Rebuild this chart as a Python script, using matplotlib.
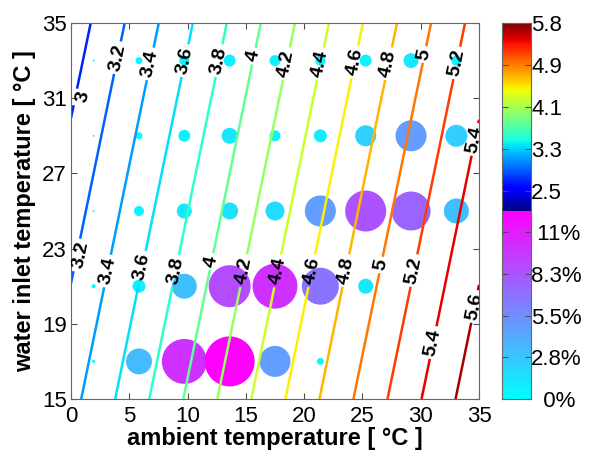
import numpy as np
import matplotlib
matplotlib.use('Agg')
import matplotlib.pyplot as plt
from matplotlib.colors import Normalize

plt.rcParams['font.family'] = ['Liberation Sans', 'DejaVu Sans']

# COP table
ambient = [0, 5, 10, 15, 20, 25, 30, 35]
inlet = [15, 19, 23, 27, 31, 35]
cop = [
    [3.340, 3.683, 4.025, 4.368, 4.710, 5.053, 5.395, 5.738],
    [3.249, 3.592, 3.934, 4.277, 4.619, 4.962, 5.304, 5.647],
    [3.158, 3.501, 3.843, 4.186, 4.528, 4.871, 5.213, 5.556],
    [3.067, 3.410, 3.752, 4.095, 4.437, 4.780, 5.122, 5.465],
    [2.976, 3.319, 3.661, 4.004, 4.346, 4.689, 5.031, 5.374],
    [2.884, 3.227, 3.569, 3.912, 4.254, 4.597, 4.939, 5.282],
]
levels = [3.0, 3.2, 3.4, 3.6, 3.8, 4.0, 4.2, 4.4, 4.6, 4.8, 5.0, 5.2, 5.4, 5.6]

# frequency of operating points [%]
ta_bins = [1.94, 5.83, 9.72, 13.61, 17.5, 21.39, 25.28, 29.17, 33.06]
tw_bins = [17, 21, 25, 29, 33]
freq = [
    [0.05, 3.35, 10.0, 12.4, 4.77, 0.24, 0, 0, 0],
    [0.08, 0.84, 3.1, 8.75, 10.0, 6.79, 1.12, 0, 0],
    [0.02, 0.5, 1.12, 1.43, 1.79, 4.77, 8.34, 7.55, 3.1],
    [0.02, 0.24, 0.71, 1.27, 0.6, 0.84, 2.19, 4.77, 2.4],
    [0.02, 0.24, 0.5, 0.71, 0.6, 0.5, 0.71, 1.1, 0.5],
]

cop_ticks = [2.5, 3.325, 4.15, 4.975, 5.8]
cop_labels = ['2.5', '3.3', '4.1', '4.9', '5.8']
pct_ticks = [0, 2.75, 5.5, 8.25, 11]
pct_labels = ['  0%', '2.8%', '5.5%', '8.3%', ' 11%']

fig = plt.figure(figsize=(5.92, 4.55), dpi=100)
ax = fig.add_axes([71 / 592, 56 / 455, 408 / 592, 376 / 455])

fmax = 12.4
TA, TW = np.meshgrid(ta_bins, tw_bins)
F = np.array(freq)
m = F > 0
ax.scatter(TA[m], TW[m], s=F[m] * 104.5, c=F[m], cmap='cool',
           vmin=0, vmax=fmax, edgecolors='none', zorder=1)

cs = ax.contour(ambient, inlet, cop, levels=levels, cmap='jet',
                norm=Normalize(2.5, 5.7), linewidths=1.8, zorder=2)
ax.set_xlim(0, 35)
ax.set_ylim(15, 35)

label_pos = [(0.9, 31.0), (4.4, 33.1), (7.0, 32.8), (9.8, 33.0), (12.7, 33.0),
             (16.0, 33.2), (18.7, 32.8), (21.6, 32.8), (24.6, 32.9), (27.5, 32.8),
             (30.5, 33.3), (33.7, 32.8), (34.7, 28.8),
             (1.0, 22.6), (3.2, 21.8), (6.2, 22.0), (9.1, 21.8), (12.2, 22.3),
             (15.0, 21.8), (17.8, 21.8), (20.9, 21.8), (23.8, 21.8), (26.8, 22.1),
             (29.7, 21.8), (31.1, 18.0), (34.8, 19.9)]
labels = ax.clabel(cs, inline=True, fmt=lambda v: f'{v:g}', fontsize=14, colors='k',
                   manual=label_pos, inline_spacing=3)
for t in labels:
    t.set_fontweight('bold')
    x, y = t.get_position()
    if x < 1.5:
        shift = 0.7 if t.get_text() == '3' else 0.35
        t.set_position((x + shift, y))

ax.set_xticks([0, 5, 10, 15, 20, 25, 30, 35])
ax.set_yticks([15, 19, 23, 27, 31, 35])
ax.tick_params(direction='in', top=True, right=True, labelsize=16,
               length=4, color='0.3')
ax.tick_params(axis='x', pad=5)
ax.tick_params(axis='y', pad=3)
for s in ax.spines.values():
    s.set_color('0.4')
ax.set_xlabel('ambient temperature [ °C ]', fontsize=17, fontweight='bold', labelpad=0)
ax.set_ylabel('water inlet temperature [ °C ]', fontsize=17, fontweight='bold', labelpad=4)

# combined colour bar: jet for COP on top, cool for frequency below
cax = fig.add_axes([502 / 592, 56 / 455, 29 / 592, 376 / 455])
c0 = 2.109
grad = np.linspace(0, 1, 256).reshape(-1, 1)
cax.imshow(grad, cmap='cool', aspect='auto', origin='lower', extent=[0, 1, 0, 1])
cax.imshow(grad, cmap='jet', aspect='auto', origin='lower', extent=[0, 1, 1, 2])
cax.set_xlim(0, 1)
cax.set_ylim(0, 2)
cax.set_xticks([])
ticks = [t / fmax for t in pct_ticks] + [1 + (t - c0) / (5.8 - c0) for t in cop_ticks]
cax.set_yticks(ticks)
cax.set_yticklabels(pct_labels + cop_labels)
cax.tick_params(axis='y', direction='in', left=True, right=True, labelleft=False,
                labelright=True, labelsize=16, length=4, color='0.3', pad=0)
for s in cax.spines.values():
    s.set_color('0.4')

fig.savefig('out.png', dpi=100)
